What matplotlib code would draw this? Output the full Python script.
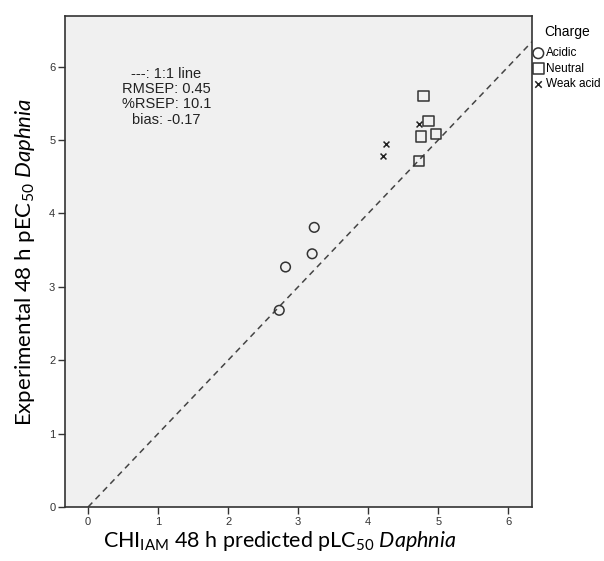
import matplotlib
matplotlib.use("Agg")
import matplotlib.pyplot as plt

acidic_x = [2.73, 2.82, 3.20, 3.23]
acidic_y = [2.68, 3.27, 3.45, 3.81]
neutral_x = [4.73, 4.75, 4.86, 4.97, 4.79]
neutral_y = [4.71, 5.05, 5.26, 5.08, 5.60]
weak_x = [4.21, 4.25, 4.72]
weak_y = [4.78, 4.94, 5.22]
ticks = [0, 1, 2, 3, 4, 5, 6]
stats_text = "---: 1:1 line\nRMSEP: 0.45\n%RSEP: 10.1\nbias: -0.17"

plt.rcParams['font.family'] = ['Liberation Sans', 'DejaVu Sans']
plt.rcParams['mathtext.fontset'] = 'custom'
plt.rcParams['mathtext.rm'] = 'Lato'
plt.rcParams['mathtext.it'] = 'Lato:italic'

fig = plt.figure(figsize=(6.04, 5.61), dpi=100)
ax = fig.add_axes([65/604, 54/561, 467/604, 491/561])
ax.set_facecolor('#f0f0f0')

ax.plot([0, 6.34], [0, 6.34], '--', color='#444444', lw=1.1, dashes=(4, 3), zorder=1)
ax.scatter(acidic_x, acidic_y, s=48, marker='o', facecolors='none',
           edgecolors='#333333', linewidths=1.1, label='Acidic', zorder=3)
ax.scatter(neutral_x, neutral_y, s=55, marker='s', facecolors='none',
           edgecolors='#333333', linewidths=1.1, label='Neutral', zorder=3)
ax.scatter(weak_x, weak_y, s=18, marker='x', color='#222222',
           linewidths=1.1, label='Weak acid', zorder=3)

ax.set_xlim(-0.33, 6.34)
ax.set_ylim(0, 6.69)
ax.set_xticks(ticks)
ax.set_yticks(ticks)
ax.tick_params(labelsize=8, length=5, width=1, colors='#333333', pad=2)
for s in ax.spines.values():
    s.set_color('#333333')
    s.set_linewidth(1.2)

ax.text(1.12, 6.0, stats_text, ha='center', va='top', fontsize=10.5,
        color='#222222', linespacing=1.12)

ax.set_xlabel(r"CHI$_{\mathrm{IAM}}$ 48 h predicted pLC$_{50}$ $\mathit{Daphnia}$",
              family='Lato', fontsize=15.5)
ax.xaxis.set_label_coords(0.46, -0.045)
ax.set_ylabel(r"Experimental 48 h pEC$_{50}$ $\mathit{Daphnia}$",
              family='Lato', fontsize=16, labelpad=9)

leg = ax.legend(loc='upper left', bbox_to_anchor=(533/604, 1 - 25/561),
                bbox_transform=fig.transFigure, frameon=False, fontsize=8.5,
                title='Charge', title_fontsize=10, handletextpad=0.2,
                borderpad=0, borderaxespad=0, labelspacing=0.3,
                handlelength=0.9, markerscale=1.1)
leg._legend_box.align = 'center'
leg._legend_box.sep = 6

fig.savefig('out.png', dpi=100)
